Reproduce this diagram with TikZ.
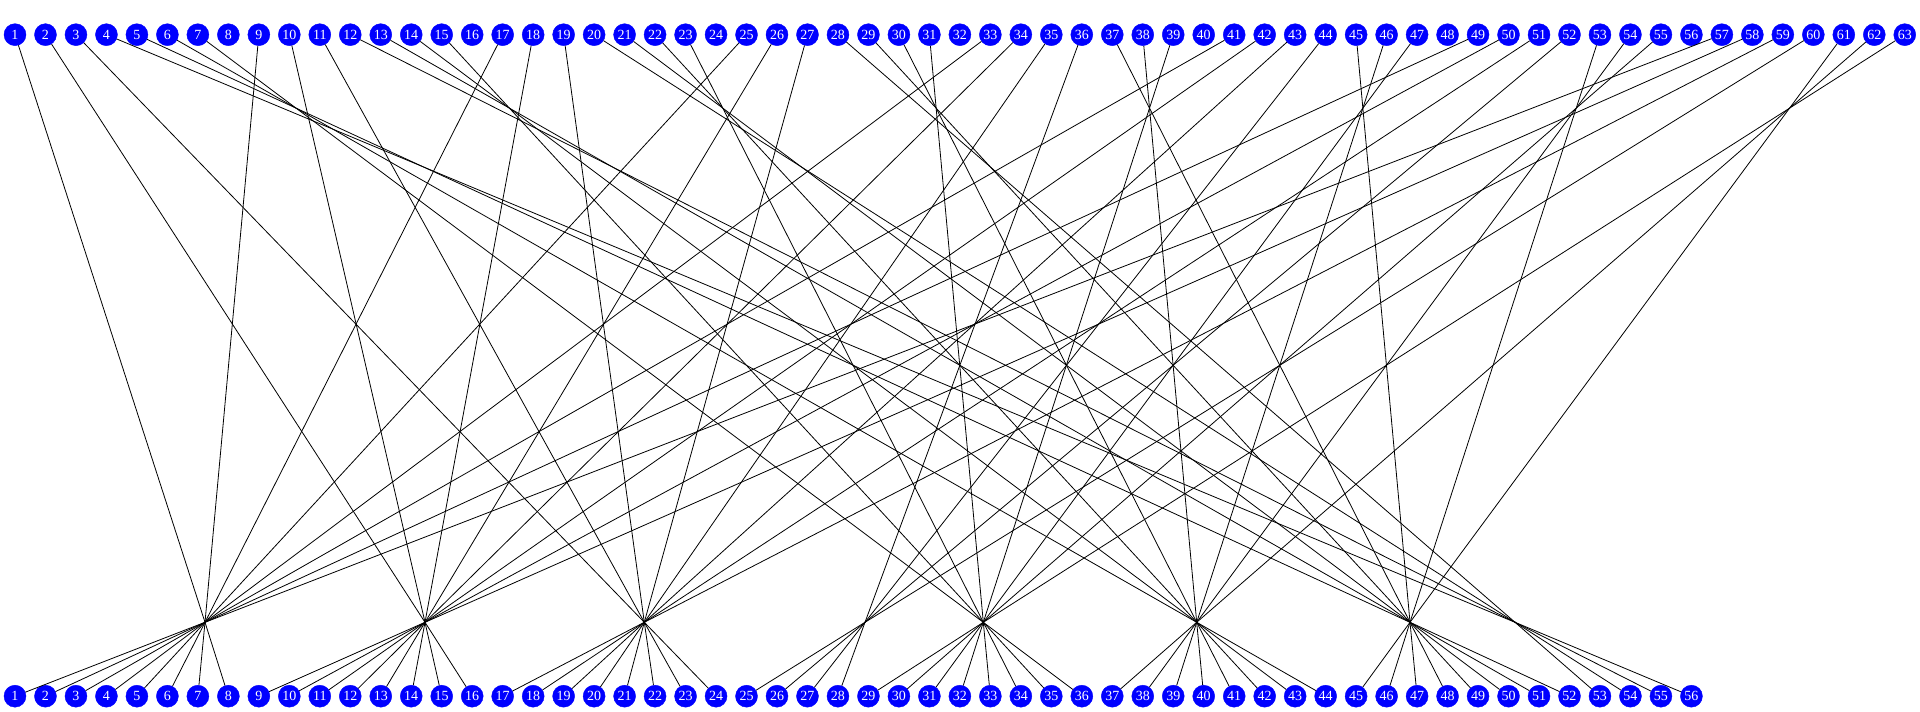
\documentclass[tikz,border=0pt]{standalone}
\usepackage{fontspec}
\setmainfont{Liberation Serif}
\begin{document}
\begin{tikzpicture}[x=1pt,y=1pt,
  vnode/.style={circle,fill=blue,draw=blue,inner sep=0pt,minimum size=22pt,text=white,font=\fontsize{14}{14}\selectfont},
  hubpt/.style={circle,fill=black,inner sep=0pt,minimum size=1.6pt},
  edge/.style={draw=black,line width=0.8pt}]
\useasboundingbox (0,0) rectangle (1920,712);
% top row
\foreach \i in {1,...,63} \node[vnode] (t\i) at ({15+(\i-1)*30.48},677.3) {\i};
% bottom row
\foreach \j in {1,...,56} \node[vnode] (b\j) at ({15+(\j-1)*30.48},15.8) {\j};
% hubs
\node[hubpt] (h1) at (205,89.7) {};
\node[hubpt] (h2) at (425,89.7) {};
\node[hubpt] (h3) at (644.3,89.7) {};
\node[hubpt] (h4) at (865,89.7) {};
\node[hubpt] (h5) at (983.3,89.7) {};
\node[hubpt] (h6) at (1196.7,89.7) {};
\node[hubpt] (h7) at (1410,89.7) {};
\node[hubpt] (h8) at (1515,89.7) {};
% top to hubs (position r in each block of 8 -> hub)
\foreach \r/\h in {1/1,2/2,3/3,5/7,6/6,7/5} {
  \foreach \k in {0,...,7} {
    \pgfmathtruncatemacro\n{\r+8*\k}
    \draw[edge] (t\n) -- (h\h.center);
  }
}
\foreach \n in {4,12,20,28} \draw[edge] (t\n) -- (h8.center);
\foreach \n in {36,44,52,60} \draw[edge] (t\n) -- (h4.center);
% hubs to bottom
\foreach \j in {1,...,8} \draw[edge] (h1.center) -- (b\j);
\foreach \j in {9,...,16} \draw[edge] (h2.center) -- (b\j);
\foreach \j in {17,...,24} \draw[edge] (h3.center) -- (b\j);
\foreach \j in {25,...,28} \draw[edge] (h4.center) -- (b\j);
\foreach \j in {29,...,36} \draw[edge] (h5.center) -- (b\j);
\foreach \j in {37,...,44} \draw[edge] (h6.center) -- (b\j);
\foreach \j in {45,...,52} \draw[edge] (h7.center) -- (b\j);
\foreach \j in {53,...,56} \draw[edge] (h8.center) -- (b\j);
\end{tikzpicture}
\end{document}
